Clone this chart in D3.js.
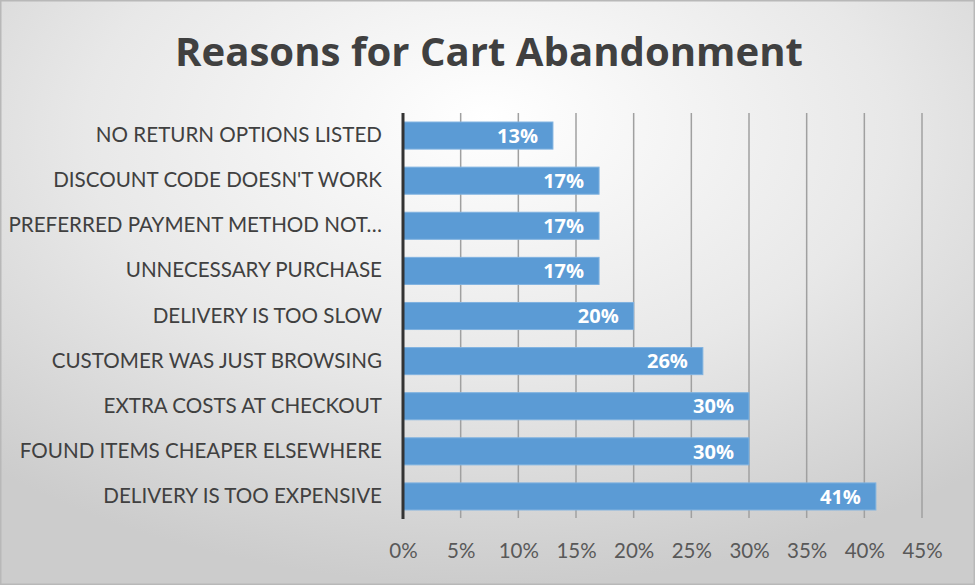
<!DOCTYPE html>
<html><head><meta charset="utf-8">
<script src="https://cdn.jsdelivr.net/npm/d3@7"></script>
<style>body{margin:0;background:#fff}svg{display:block}</style>
</head><body>
<script>
const categories = ["NO RETURN OPTIONS LISTED","DISCOUNT CODE DOESN'T WORK","PREFERRED PAYMENT METHOD NOT…","UNNECESSARY PURCHASE","DELIVERY IS TOO SLOW","CUSTOMER WAS JUST BROWSING","EXTRA COSTS AT CHECKOUT","FOUND ITEMS CHEAPER ELSEWHERE","DELIVERY IS TOO EXPENSIVE"];
const values = [13,17,17,17,20,26,30,30,41];
const tickValues = [0,5,10,15,20,25,30,35,40,45];
const title = "Reasons for Cart Abandonment";

const W=975,H=585;
const svg=d3.select("body").append("svg").attr("width",W).attr("height",H);
const defs=svg.append("defs");
const rg=defs.append("radialGradient").attr("id","bg").attr("cx","50%").attr("cy","25%").attr("r","75%").attr("fx","50%").attr("fy","20%");
rg.append("stop").attr("offset","0%").attr("stop-color","#ffffff");
rg.append("stop").attr("offset","55%").attr("stop-color","#e8e8e8");
rg.append("stop").attr("offset","100%").attr("stop-color","#cccccc");
svg.append("rect").attr("width",W).attr("height",H).attr("fill","url(#bg)");
svg.append("rect").attr("x",0.5).attr("y",0.5).attr("width",W-1).attr("height",H-1).attr("fill","none").attr("stroke","#b8b8b8").attr("stroke-width",2);

const x=d3.scaleLinear().domain([0,45]).range([403,922]);
const y=d3.scaleBand().domain(categories).range([113,519]).paddingInner(0.4).paddingOuter(0.2);

svg.append("text").attr("x",489).attr("y",66).attr("text-anchor","middle")
  .attr("font-family","Open Sans").attr("font-weight","bold").attr("font-size",39)
  .attr("fill","#404040").attr("textLength",628).attr("lengthAdjust","spacingAndGlyphs").text(title);

// gridlines
svg.append("g").selectAll("line").data(tickValues.slice(1)).join("line")
  .attr("x1",d=>x(d)).attr("x2",d=>x(d)).attr("y1",113).attr("y2",518)
  .attr("stroke","#a0a0a0").attr("stroke-width",1.5);

// x axis labels
const xa=svg.append("g").attr("transform","translate(0,518)")
  .call(d3.axisBottom(x).tickValues(tickValues).tickFormat(d=>d+"%").tickSize(0).tickPadding(25));
xa.select(".domain").remove();
xa.selectAll("text").attr("font-family","Lato").attr("font-size",20.5).attr("fill","#595959");

// bars
svg.append("g").selectAll("rect").data(values).join("rect")
  .attr("x",x(0)).attr("y",(d,i)=>y(categories[i])).attr("width",d=>x(d)-x(0)).attr("height",y.bandwidth())
  .attr("fill","#5b9bd5").attr("stroke","#7fb2e0").attr("stroke-width",1);

svg.append("g").selectAll("text").data(values).join("text")
  .attr("x",d=>x(d)-15).attr("y",(d,i)=>y(categories[i])+y.bandwidth()/2).attr("dy","0.36em")
  .attr("text-anchor","end").attr("font-family","Open Sans").attr("font-weight","bold").attr("font-size",20)
  .attr("fill","#ffffff").text(d=>d+"%");

// y axis
const ya=svg.append("g").attr("transform",`translate(${x(0)},0)`)
  .call(d3.axisLeft(y).tickSize(0).tickPadding(21));
ya.select(".domain").attr("stroke","#333").attr("stroke-width",3).attr("d","M0,113V519");
ya.selectAll("text").attr("font-family","Lato").attr("font-size",20.6).attr("fill","#404040");
</script>
</body></html>
